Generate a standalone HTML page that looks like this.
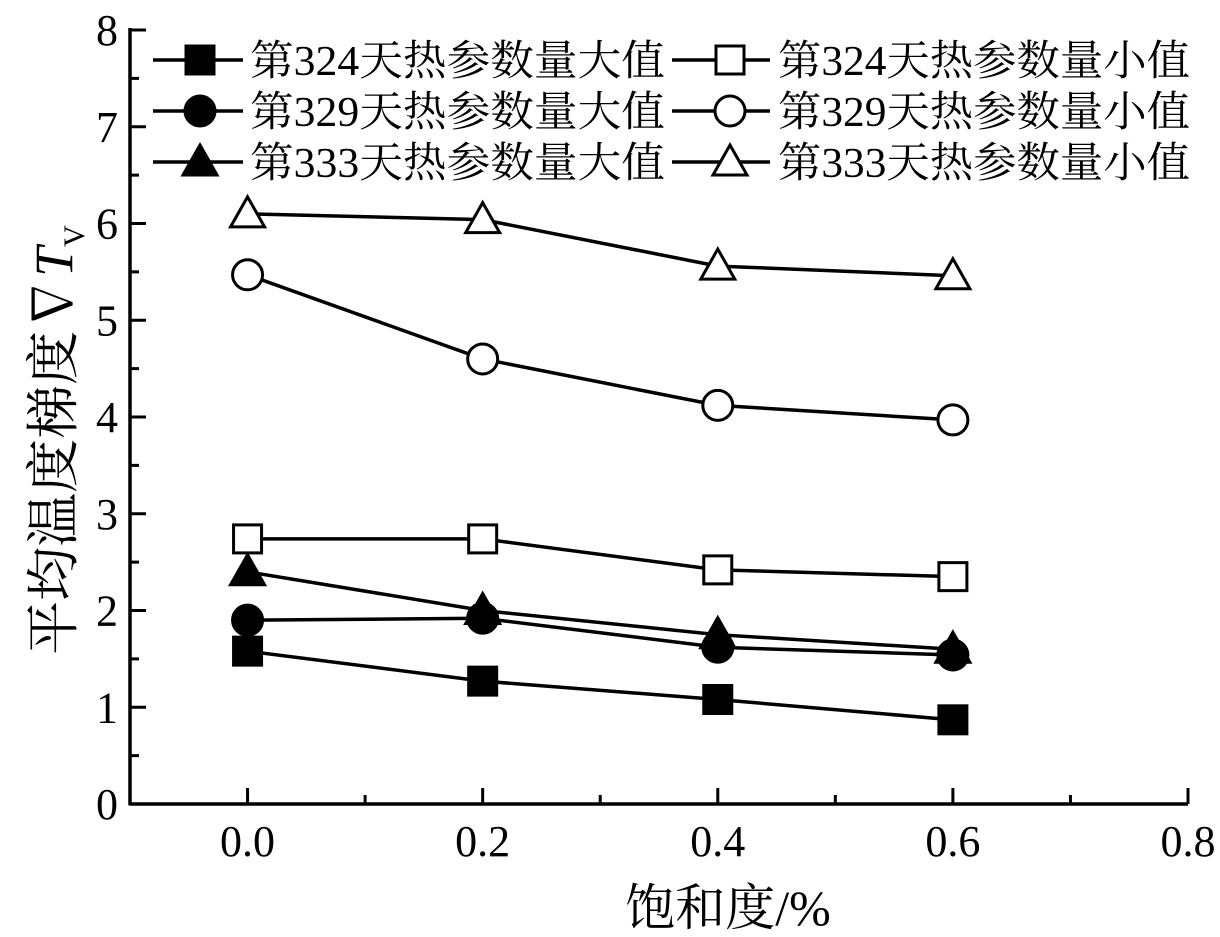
<!DOCTYPE html>
<html><head><meta charset="utf-8"><style>
html,body{margin:0;padding:0;background:#fff;}
svg{display:block;font-family:"Liberation Serif","Noto Serif CJK SC",serif;}
</style></head><body>
<svg id="chart" width="1220" height="937" viewBox="0 0 1220 937">
<g id="axes"></g><g id="series"></g><g id="legend"></g>
<text x="728" y="925" font-size="50" text-anchor="middle">饱和度/%</text>
<text transform="translate(72,440) rotate(-90)" font-size="54" text-anchor="middle">平均温度梯度∇<tspan font-style="italic">T</tspan><tspan font-size="30" dy="12">V</tspan></text>
</svg>
<script>
const xValues=[0.0,0.2,0.4,0.6];
const s324max=[1.58,1.27,1.08,0.87];
const s324min=[2.74,2.74,2.42,2.35];
const s329max=[1.9,1.92,1.62,1.54];
const s329min=[5.47,4.6,4.12,3.97];
const s333max=[2.4,2.0,1.75,1.6];
const s333min=[6.1,6.04,5.56,5.46];
const xTicks=["0.0","0.2","0.4","0.6","0.8"];
const yTicks=["0","1","2","3","4","5","6","7","8"];
const labels=["第324天热参数量大值","第324天热参数量小值","第329天热参数量大值","第329天热参数量小值","第333天热参数量大值","第333天热参数量小值"];
const NS="http://www.w3.org/2000/svg";
const L=130,R=1188,T=30,B=804,XMIN=-0.1,XMAX=0.8;
const X=v=>L+(v-XMIN)/(XMAX-XMIN)*(R-L);
const Y=v=>B-v/8*(B-T);
function mk(tag,attrs,parent){const e=document.createElementNS(NS,tag);for(const k in attrs)e.setAttribute(k,attrs[k]);parent.appendChild(e);return e;}
const axes=document.getElementById('axes');
let e=mk('line',{x1:L,y1:B,x2:R,y2:B,stroke:'#000','stroke-width':3.5},axes);


e=mk('line',{x1:L,y1:B+1.5,x2:L,y2:T-2,stroke:'#000','stroke-width':3.5},axes);


for(let i=-1;i<=8;i++){const v=i/10;const x=X(v);const major=(i%2===0);
 mk('line',{x1:x,y1:B,x2:x,y2:B-(major?16:9),stroke:'#000','stroke-width':3},axes);}
xTicks.forEach(t=>{const t1=mk('text',{x:X(parseFloat(t)),y:B+52,'font-size':44,'text-anchor':'middle'},axes);t1.textContent=t;
 
 });
for(let i=0;i<=16;i++){const y=Y(i/2);const major=i%2===0;
 mk('line',{x1:L,y1:y,x2:L+(major?16:9),y2:y,stroke:'#000','stroke-width':3},axes);}
yTicks.forEach(t=>{const t1=mk('text',{x:L-12,y:Y(parseFloat(t))+15,'font-size':44,'text-anchor':'end'},axes);t1.textContent=t;
 
 });
function marker(shape,filled,cx,cy,parent){
 const st={stroke:'#000','stroke-width':3,fill:filled?'#000':'#fff'};
 if(shape==='sq')return mk('rect',Object.assign({x:cx-14,y:cy-14,width:28,height:28},st),parent);
 if(shape==='ci')return mk('circle',Object.assign({cx:cx,cy:cy,r:15},st),parent);
 return mk('polygon',Object.assign({points:`${cx},${cy-17} ${cx+17},${cy+13} ${cx-17},${cy+13}`},st),parent);
}
const seriesDefs=[[s324max,'sq',true],[s324min,'sq',false],[s329max,'ci',true],[s329min,'ci',false],[s333max,'tr',true],[s333min,'tr',false]];
const sg=document.getElementById('series');
seriesDefs.forEach((d,k)=>{const g=mk('g',{},sg);
 
 
 const pts=d[0].map((v,i)=>X(xValues[i])+','+Y(v)).join(' ');
 mk('polyline',{points:pts,fill:'none',stroke:'#000','stroke-width':3.5},g);
 d[0].forEach((v,i)=>{const m=marker(d[1],d[2],X(xValues[i]),Y(v),g);
  
  });
});
const lg=document.getElementById('legend');
const rows=[60,111,162];
seriesDefs.forEach((d,k)=>{const col=k%2,row=Math.floor(k/2);
 const x0=col?672:153,x1=col?770:243,mx=col?730:200,tx=col?778:250,y=rows[row];
 const g=mk('g',{},lg);
 
 
 mk('line',{x1:x0,y1:y,x2:x1,y2:y,stroke:'#000','stroke-width':3.5},g);
 marker(d[1],d[2],mx,y,g);
 const t=mk('text',{x:tx,y:y+15,'font-size':42,textLength:col?412:415,lengthAdjust:'spacingAndGlyphs'},g);
 t.textContent=labels[k];
});
</script>
</body></html>
